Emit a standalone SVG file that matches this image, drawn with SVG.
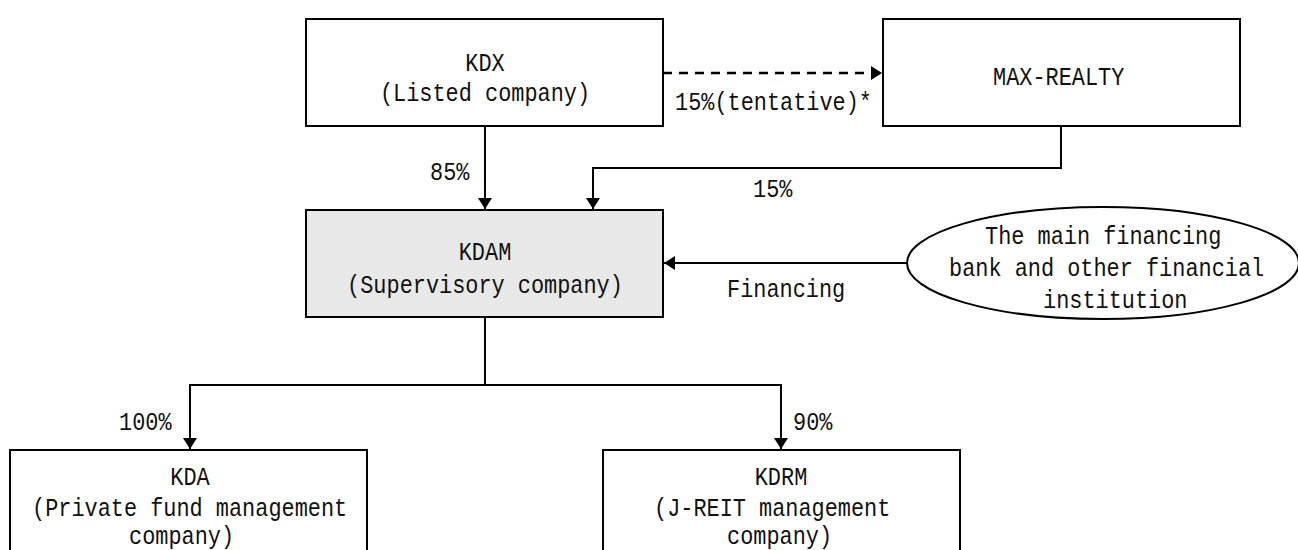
<svg xmlns="http://www.w3.org/2000/svg" width="1298" height="550" viewBox="0 0 1298 550">
<style>
.box{fill:#fff;stroke:#000;stroke-width:2}
.gray{fill:#e8e8e8}
.t{font-family:"Liberation Mono","DejaVu Sans Mono",monospace;font-size:21.9px;fill:#111}
.c{text-anchor:middle}
.ln{fill:none;stroke:#000;stroke-width:2}
.dash{stroke-dasharray:9 7;stroke-width:2.5}
</style>
<defs>
<marker id="ah" markerUnits="userSpaceOnUse" markerWidth="12" markerHeight="14" refX="11" refY="7" orient="auto">
<path d="M0,0 L11,7 L0,14 z" fill="#000"/>
</marker>
</defs>
<rect width="1298" height="550" fill="#fff"/>
<g id="connectors">
<path class="ln" d="M485,126 V209" marker-end="url(#ah)"/>
<path class="ln" d="M1061,126 V168 H593 V209" marker-end="url(#ah)"/>
<path class="ln dash" d="M663,73 H882" marker-end="url(#ah)"/>
<path class="ln" d="M907,263 H664" marker-end="url(#ah)"/>
<path class="ln" d="M485,317 V385 H190 V449" marker-end="url(#ah)"/>
<path class="ln" d="M485,385 H781 V449" marker-end="url(#ah)"/>
<text class="t" transform="translate(430,180) scale(1,1.2)">85%</text>
<text class="t" transform="translate(675,110) scale(1,1.2)">15%(tentative)*</text>
<text class="t" transform="translate(753,197) scale(1,1.2)">15%</text>
<text class="t" transform="translate(727,297) scale(1,1.2)">Financing</text>
<text class="t" transform="translate(119,430) scale(1,1.2)">100%</text>
<text class="t" transform="translate(793,430) scale(1,1.2)">90%</text>
</g>
<g id="kdx">
<rect class="box" x="306" y="19" width="357" height="107"/>
<text class="t c" transform="translate(485,71) scale(1,1.2)">KDX</text>
<text class="t c" transform="translate(485,101) scale(1,1.2)">(Listed company)</text>
</g>
<g id="maxrealty">
<rect class="box" x="883" y="19" width="357" height="107"/>
<text class="t" transform="translate(993,85) scale(1,1.2)">MAX-REALTY</text>
</g>
<g id="kdam">
<rect class="box gray" x="306" y="210" width="357" height="107"/>
<text class="t c" transform="translate(485,260) scale(1,1.2)">KDAM</text>
<text class="t c" transform="translate(485,293) scale(1,1.2)">(Supervisory company)</text>
</g>
<g id="bank">
<ellipse class="box" cx="1103" cy="263" rx="196" ry="56"/>
<text class="t" transform="translate(985,244) scale(1,1.2)">The main financing</text>
<text class="t" transform="translate(949,276) scale(1,1.2)">bank and other financial</text>
<text class="t" transform="translate(1043,308) scale(1,1.2)">institution</text>
</g>
<g id="kda">
<rect class="box" x="10" y="450" width="357" height="110"/>
<text class="t c" transform="translate(190,485) scale(1,1.2)">KDA</text>
<text class="t" transform="translate(32,516) scale(1,1.2)">(Private fund management</text>
<text class="t" transform="translate(129,544) scale(1,1.2)">company)</text>
</g>
<g id="kdrm">
<rect class="box" x="603" y="450" width="357" height="110"/>
<text class="t c" transform="translate(781,485) scale(1,1.2)">KDRM</text>
<text class="t" transform="translate(654,516) scale(1,1.2)">(J-REIT management</text>
<text class="t" transform="translate(727,544) scale(1,1.2)">company)</text>
</g>
</svg>
